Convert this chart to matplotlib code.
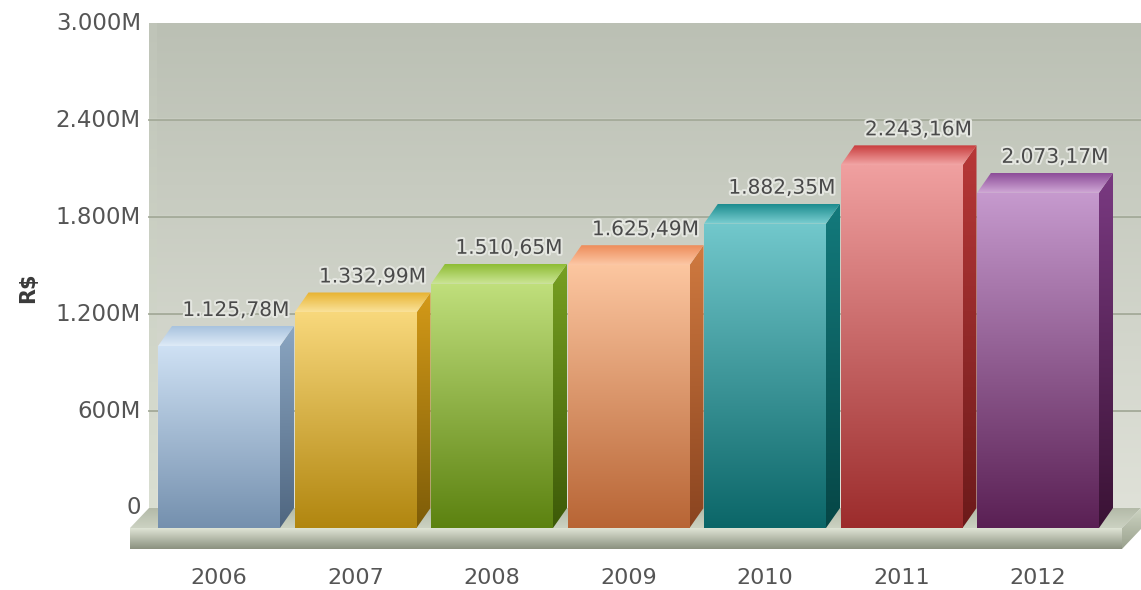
import numpy as np
import matplotlib
matplotlib.use('Agg')
import matplotlib.pyplot as plt
from matplotlib.patches import Polygon
from matplotlib.colors import to_rgb
import matplotlib.patheffects as pe

# --- dados ---
anos = ['2006', '2007', '2008', '2009', '2010', '2011', '2012']
valores = [1125.78, 1332.99, 1510.65, 1625.49, 1882.35, 2243.16, 2073.17]
rotulos = ['1.125,78M', '1.332,99M', '1.510,65M', '1.625,49M',
           '1.882,35M', '2.243,16M', '2.073,17M']
y_ticks = [0, 600, 1200, 1800, 2400, 3000]
y_ticklabels = ['0', '600M', '1.200M', '1.800M', '2.400M', '3.000M']

# --- cores (frente topo/base, lado topo/base, tampa fundo/frente) ---
frente_topo = ['#cfe1f4', '#f8d87c', '#c0df7c', '#fcc6a0', '#72c8cc', '#f0a0a0', '#c69ace']
frente_base = ['#7490ae', '#b1860f', '#5c8210', '#b86535', '#0b6668', '#9c2c2c', '#5a2054']
lado_topo = ['#8ba6c2', '#d49a18', '#77a022', '#d07a40', '#137a7c', '#b83838', '#7a3a82']
lado_base = ['#4f6680', '#7d5c08', '#3d5a08', '#8a4420', '#064646', '#6c1a1a', '#3a1234']
tampa_fundo = ['#a8c2de', '#e6b02a', '#8ebc34', '#ee8c5a', '#1c8c8e', '#c83c3c', '#8c4c98']
tampa_frente = ['#deebf7', '#fae29a', '#cce696', '#fcc8a6', '#7ccfd2', '#f2a6a6', '#d0a8d6']

# --- geometria em pixels da imagem original ---
W, H = 1141, 590
passo = 136.5          # px entre categorias
x_orig = 219           # centro da 1a barra (px)
y_zero = 508           # linha do zero (px a partir do topo)
px_M = 485 / 3000.0    # px por milhao


def px_x(p):
    return (p - x_orig) / passo


def dpx_x(d):
    return d / passo


def px_y(p):
    return (y_zero - p) / px_M


def dpx_y(d):
    return d / px_M


def grad_poly(ax, verts, c1, c2, z):
    verts = np.array(verts)
    patch = Polygon(verts, closed=True, facecolor='none', edgecolor='none', zorder=z)
    ax.add_patch(patch)
    c1 = np.array(to_rgb(c1))
    c2 = np.array(to_rgb(c2))
    t = np.linspace(0, 1, 256)[:, None, None]
    img = c1 * (1 - t) + c2 * t
    x0, x1 = verts[:, 0].min(), verts[:, 0].max()
    y0, y1 = verts[:, 1].min(), verts[:, 1].max()
    im = ax.imshow(img, extent=[x0, x1, y0, y1], origin='upper',
                   aspect='auto', interpolation='bilinear', zorder=z)
    im.set_clip_path(patch)


fig = plt.figure(figsize=(W / 100, H / 100), dpi=100)
fig.patch.set_facecolor('white')
ax = fig.add_axes([0, 0, 1, 1])
ax.axis('off')

xmin, xmax = px_x(0), px_x(W)
ymin, ymax = px_y(H), px_y(0)

# parede do fundo
wl, wr = px_x(149), xmax
grad_poly(ax, [(wl, 0), (wr, 0), (wr, 3000), (wl, 3000)], '#bbc0b4', '#dfe1d8', 1)
# faixa clara na borda esquerda
grad_poly(ax, [(wl, 0), (wl + dpx_x(8), 0), (wl + dpx_x(8), 3000), (wl, 3000)],
          '#bfc4b8', '#dadfd2', 1.5)

# grade
for t in y_ticks[1:-1]:
    ax.plot([wl, wr], [t + dpx_y(1.5)] * 2, color='#dde0d6', lw=1.0, zorder=2)
    ax.plot([wl, wr], [t, t], color='#a3a998', lw=1.3, zorder=2)

# piso
dfx, dfy, esp = dpx_x(19), dpx_y(20), dpx_y(21)
fl, fr = px_x(130), px_x(1122)
grad_poly(ax, [(wl, 0), (wr, 0), (fr, -dfy), (fl, -dfy)], '#b3baa8', '#ccd2c2', 3)
grad_poly(ax, [(fl, -dfy), (fr, -dfy), (fr, -dfy - esp), (fl, -dfy - esp)],
          '#dfe4d6', '#8b917f', 3)
grad_poly(ax, [(fr, -dfy), (wr, 0), (wr, -esp), (fr, -dfy - esp)], '#cdd4c2', '#9aa18e', 3)

# barras 3D
larg = dpx_x(122)
dbx, dby = dpx_x(14), dpx_y(20)
for i, v in enumerate(valores):
    l, r = i - larg / 2, i + larg / 2
    # lado
    grad_poly(ax, [(r, -dby), (r + dbx, 0), (r + dbx, v), (r, v - dby)],
              lado_topo[i], lado_base[i], 5)
    # tampa
    grad_poly(ax, [(l, v - dby), (r, v - dby), (r + dbx, v), (l + dbx, v)],
              tampa_fundo[i], tampa_frente[i], 5)
    # frente
    grad_poly(ax, [(l, -dby), (r, -dby), (r, v - dby), (l, v - dby)],
              frente_topo[i], frente_base[i], 6)
    ax.text(i + dpx_x(17), v + dpx_y(6), rotulos[i], ha='center', va='bottom',
            fontsize=14.5, color='#4a4a4a', zorder=8,
            path_effects=[pe.withStroke(linewidth=3, foreground='#e4e6e0')])

# eixo y
for t, s in zip(y_ticks, y_ticklabels):
    ax.text(px_x(141), t, s, ha='right', va='center', fontsize=16.5, color='#555555')
ax.text(px_x(28), px_y(288), 'R$', rotation=90, ha='center', va='center',
        fontsize=15, fontweight='bold', color='#3a3a3a')

# eixo x
for i, a in enumerate(anos):
    ax.text(i, px_y(578), a, ha='center', va='center', fontsize=16, color='#555555')

ax.set_xlim(xmin, xmax)
ax.set_ylim(ymin, ymax)

plt.savefig('out.png', dpi=100)
plt.close()
